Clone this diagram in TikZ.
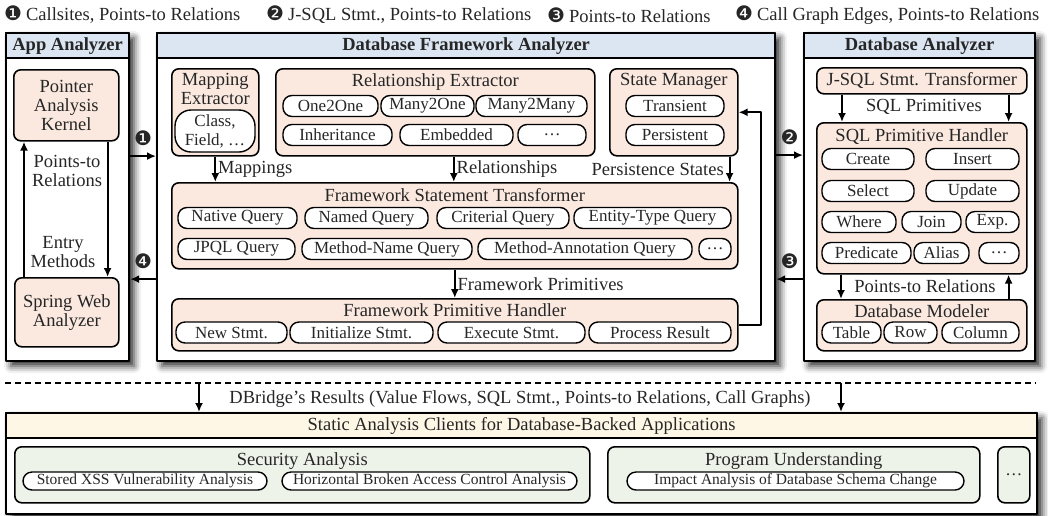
\documentclass[tikz,border=0pt]{standalone}
\usepackage{fontspec}
\setmainfont{Liberation Serif}
\newfontfamily\dingfont{DejaVu Sans}
\usetikzlibrary{arrows.meta,shadows.blur,positioning}
\definecolor{bandblue}{HTML}{DCE6F2}
\definecolor{boxpink}{HTML}{FBE9E0}
\definecolor{bandyellow}{HTML}{FEF7E6}
\definecolor{boxgreen}{HTML}{EEF3EA}
\newcommand{\mk}[1]{{\dingfont\fontsize{20}{20}\selectfont #1}}
\newcommand{\ttlfont}{\fontsize{18.5}{19}\selectfont}
\tikzset{
  outer/.style={draw, line width=2.2pt, fill=white, anchor=north west, inner sep=0pt,
    blur shadow={shadow xshift=5pt, shadow yshift=-5pt, shadow blur radius=7pt, shadow opacity=85}},
  band/.style={draw, line width=2.2pt, anchor=north, minimum height=25pt, inner sep=0pt, font=\ttlfont\bfseries},
  unit/.style={draw, line width=1.6pt, rounded corners=7pt, fill=boxpink, anchor=north west, inner sep=0pt},
  client/.style={unit, fill=boxgreen},
  ttl/.style={font=\ttlfont, inner sep=0pt, align=center},
  pill/.style={draw, line width=1.4pt, fill=white, rounded corners=9pt, inner sep=0pt, minimum height=21pt},
  flow/.style={->, line width=1.8pt},
}
\begin{document}
\begin{tikzpicture}[x=1pt, y=-1pt, font=\fontsize{17}{19}\selectfont, text=black!85,
  >={Latex[length=9pt,width=8pt]}, line join=round]
\useasboundingbox (0,0) rectangle (1048,515);

% legend
\node[anchor=west, font=\ttlfont, inner sep=0pt] (leg1) at (4,15) {\mk{❶}\hspace{4pt}Callsites, Points-to Relations};
\node[anchor=west, font=\ttlfont, inner sep=0pt] (leg2) at (266,15) {\mk{❷}\hspace{4pt}J-SQL Stmt., Points-to Relations};
\node[anchor=west, font=\ttlfont, inner sep=0pt] (leg3) at (547,15) {\mk{❸}\hspace{4pt}Points-to Relations};
\node[anchor=west, font=\ttlfont, inner sep=0pt] (leg4) at (735,15) {\mk{❹}\hspace{4pt}Call Graph Edges, Points-to Relations};

% app analyzer
\node[outer, minimum width=123pt, minimum height=328pt] (app) at (5,32) {};
\node[band, fill=bandblue, minimum width=123pt] (appttl) at (app.north) {App Analyzer};
\node[unit, minimum width=105pt, minimum height=71pt] (pak) at (13,69) {};
\node[ttl] at (pak.center) {Pointer\\Analysis\\Kernel};
\node[unit, minimum width=104pt, minimum height=69pt] (swa) at (14,277) {};
\node[ttl] at (swa.center) {Spring Web\\Analyzer};
\draw[flow] ([xshift=10pt]swa.north west) -- ([xshift=10pt]swa.north west |- pak.south);
\draw[flow] ([xshift=-12pt]pak.south east) -- ([xshift=-12pt]pak.south east |- swa.north);
\node[ttl] (lblpr) at (67,171) {Points-to\\Relations};
\node[ttl] (lblem) at (63,252) {Entry\\Methods};

% database framework analyzer
\node[outer, minimum width=618pt, minimum height=328pt] (dfa) at (156,32) {};
\node[band, fill=bandblue, minimum width=618pt] (dfattl) at (dfa.north) {Database Framework Analyzer};

\node[unit, minimum width=87pt, minimum height=87pt] (mapx) at (171,68) {};
\node[ttl, below=5pt of mapx.north] {Mapping\\Extractor};
\node[pill, rounded corners=16pt, minimum width=80pt, minimum height=42pt, align=center] (clsf) at (215,131) {Class,\\Field, \dots};

\node[unit, minimum width=319pt, minimum height=87pt] (relx) at (275,68) {};
\node[ttl, below=5pt of relx.north] {Relationship Extractor};
\node[pill, minimum width=95pt] (o2o) at (330.5,106) {One2One};
\node[pill, minimum width=93pt] (m2o) at (427.5,106) {Many2One};
\node[pill, minimum width=111pt] (m2m) at (531.5,106) {Many2Many};
\node[pill, minimum width=109pt] (inh) at (337.5,135) {Inheritance};
\node[pill, minimum width=113pt] (emb) at (456.5,135) {Embedded};
\node[pill, minimum width=68pt] (reldots) at (552,135) {\dots};

\node[unit, minimum width=128pt, minimum height=87pt] (stm) at (609,68) {};
\node[ttl, below=5pt of stm.north] {State Manager};
\node[pill, minimum width=98pt] (trans) at (675,106) {Transient};
\node[pill, minimum width=98pt] (pers) at (675,135) {Persistent};

\node[unit, minimum width=566pt, minimum height=86pt] (fst) at (171,182) {};
\node[ttl, below=6pt of fst.north] {Framework Statement Transformer};
\node[pill, minimum width=119pt] (natq) at (237.5,218) {Native Query};
\node[pill, minimum width=123pt] (namq) at (366.5,218) {Named Query};
\node[pill, minimum width=132pt] (crtq) at (503,218) {Criterial Query};
\node[pill, minimum width=157pt] (etq) at (652.5,218) {Entity-Type Query};
\node[pill, minimum width=117pt] (jpql) at (236.5,249) {JPQL Query};
\node[pill, minimum width=170pt] (mnq) at (387,249) {Method-Name Query};
\node[pill, minimum width=214pt] (maq) at (585,249) {Method-Annotation Query};
\node[pill, minimum width=32pt] (fstdots) at (715,249) {\dots};

\node[unit, minimum width=566pt, minimum height=52pt] (fph) at (171,298) {};
\node[ttl, below=5pt of fph.north] {Framework Primitive Handler};
\node[pill, minimum width=111pt] (newst) at (231.5,332.5) {New Stmt.};
\node[pill, minimum width=143pt] (initst) at (361.5,332.5) {Initialize Stmt.};
\node[pill, minimum width=147pt] (exest) at (511.5,332.5) {Execute Stmt.};
\node[pill, minimum width=142pt] (procres) at (660,332.5) {Process Result};

\draw[flow] (mapx.south) -- (mapx.south |- fst.north) node[midway, right=2pt, ttl]{Mappings};
\draw[flow] ([xshift=18.5pt]relx.south) -- ([xshift=18.5pt]relx.south |- fst.north) node[midway, right=2pt, ttl]{Relationships};
\draw[flow] ([xshift=-9pt]stm.south east) -- ([xshift=-9pt]stm.south east |- fst.north) node[midway, left=5pt, ttl]{Persistence States};
\draw[flow] (fst.south) -- (fph.north) node[midway, right=2pt, ttl]{Framework Primitives};
\draw[flow] (fph.east) -- ++(22,0) |- (stm.east);

% database analyzer
\node[outer, minimum width=231pt, minimum height=328pt] (dba) at (803,32) {};
\node[band, fill=bandblue, minimum width=231pt] (dbattl) at (dba.north) {Database Analyzer};
\node[unit, minimum width=210pt, minimum height=26pt] (jsql) at (816,67) {};
\node[ttl] at (jsql.center) {J-SQL Stmt. Transformer};

\node[unit, minimum width=210pt, minimum height=151pt] (sqlph) at (816,122) {};
\node[ttl, below=6pt of sqlph.north] {SQL Primitive Handler};
\node[pill, minimum width=92pt] (crt) at (868,159) {Create};
\node[pill, minimum width=93pt] (ins) at (972.5,159) {Insert};
\node[pill, minimum width=92pt] (sel) at (868,191) {Select};
\node[pill, minimum width=93pt] (upd) at (972.5,191) {Update};
\node[pill, minimum width=74pt] (whr) at (859,222) {Where};
\node[pill, minimum width=59pt] (jn) at (931.5,222) {Join};
\node[pill, minimum width=53pt] (expr) at (992.5,222) {Exp.};
\node[pill, minimum width=89pt] (pred) at (866.5,253) {Predicate};
\node[pill, minimum width=55pt] (als) at (941.5,253) {Alias};
\node[pill, minimum width=40pt] (sqldots) at (999,253) {\dots};

\node[unit, minimum width=210pt, minimum height=51pt] (dbm) at (816,299) {};
\node[ttl, below=5pt of dbm.north] {Database Modeler};
\node[pill, minimum width=59pt] (tbl) at (851.5,332.5) {Table};
\node[pill, minimum width=53pt] (rw) at (910.5,332.5) {Row};
\node[pill, minimum width=77pt] (col) at (980.5,332.5) {Column};

\draw[flow] ([xshift=26pt]jsql.south west) -- ([xshift=26pt]jsql.south west |- sqlph.north);
\draw[flow] ([xshift=-19pt]jsql.south east) -- ([xshift=-19pt]jsql.south east |- sqlph.north);
\node[ttl] (lblsql) at (924,107) {SQL Primitives};
\draw[flow] ([xshift=25pt]sqlph.south west) -- ([xshift=25pt]sqlph.south west |- dbm.north);
\draw[flow] ([xshift=-19pt]dbm.north east) -- ([xshift=-19pt]dbm.north east |- sqlph.south);
\node[ttl] (lblpts) at (925,286) {Points-to Relations};

% between analyzers
\draw[flow] ([yshift=41pt]app.east) -- ([yshift=41pt]app.east -| dfa.west) node[midway, above=6pt]{\mk{❶}};
\draw[flow] ([yshift=-82pt]dfa.west) -- ([yshift=-82pt]dfa.west -| app.east) node[midway, above=6pt]{\mk{❹}};
\draw[flow] ([yshift=42pt]dfa.east) -- ([yshift=42pt]dfa.east -| dba.west) node[midway, above=6pt]{\mk{❷}};
\draw[flow] ([yshift=-82pt]dba.west) -- ([yshift=-82pt]dba.west -| dfa.east) node[midway, above=6pt]{\mk{❸}};

% clients
\coordinate (resl) at (199,383);
\coordinate (resr) at (841,383);
\draw[line width=1.2pt, dash pattern=on 6pt off 4pt] (5,383) -- (1036,383);
\node[outer, minimum width=1031pt, minimum height=101pt] (clients) at (5,412) {};
\node[band, fill=bandyellow, minimum width=1031pt, font=\ttlfont] (clttl) at (clients.north) {Static Analysis Clients for Database-Backed Applications};
\draw[flow] (resl) -- (resl |- clients.north);
\draw[flow] (resr) -- (resr |- clients.north);
\node[ttl] (results) at (520,399) {DBridge’s Results (Value Flows, SQL Stmt., Points-to Relations, Call Graphs)};

\node[client, minimum width=575pt, minimum height=56pt] (sec) at (14,446) {};
\node[ttl, below=6pt of sec.north] {Security Analysis};
\node[pill, minimum width=244pt, minimum height=18pt, font=\fontsize{15.5}{17}\selectfont] (xss) at (145,481) {Stored XSS Vulnerability Analysis};
\node[pill, minimum width=295pt, minimum height=18pt, font=\fontsize{15.5}{17}\selectfont] (hbac) at (429.5,481) {Horizontal Broken Access Control Analysis};
\node[client, minimum width=372pt, minimum height=56pt] (prog) at (607,446) {};
\node[ttl, below=6pt of prog.north] {Program Understanding};
\node[pill, minimum width=337pt, minimum height=18pt, font=\fontsize{15.5}{17}\selectfont] (impact) at (795.5,481) {Impact Analysis of Database Schema Change};
\node[client, minimum width=32pt, minimum height=56pt] (more) at (997,446) {};
\node at (more.center) {\dots};
\end{tikzpicture}
\end{document}
